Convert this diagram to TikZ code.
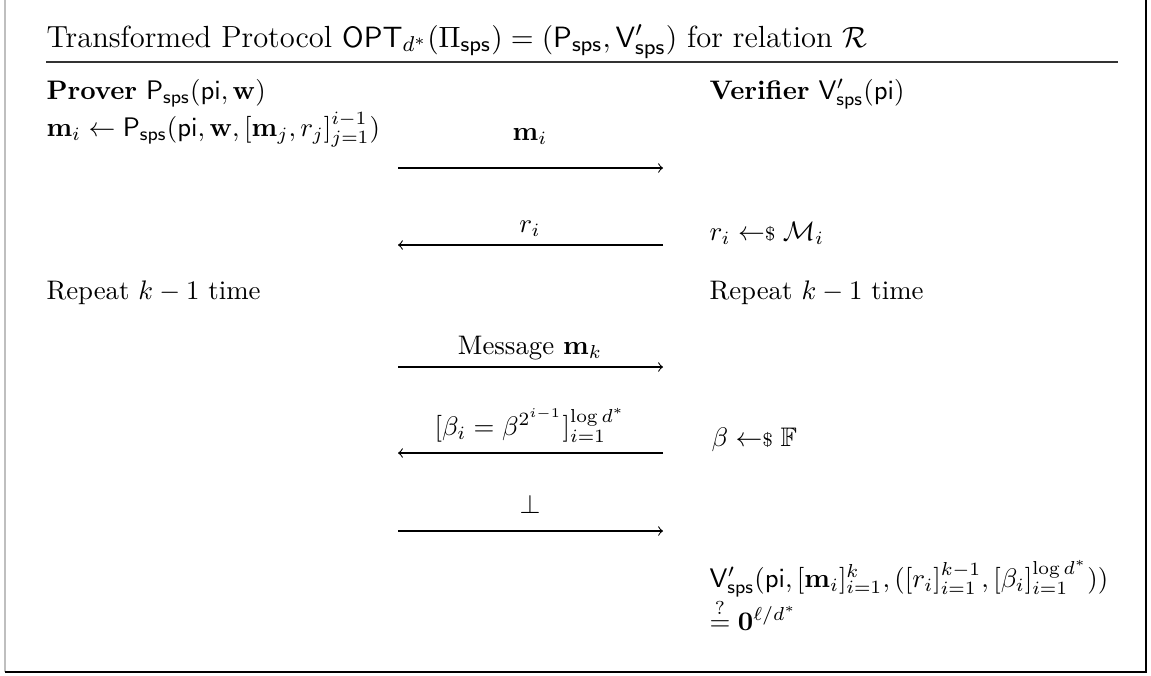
\documentclass[tikz,border=0pt]{standalone}
\usepackage{amsmath,amssymb}
\newcommand{\smp}{\mathrel{\leftarrow\mkern-5mu{\scriptstyle\$}}}
\newcommand{\sps}{\mathsf{sps}}
\begin{document}
\begin{tikzpicture}[x=0.373pt,y=-0.373pt,
  txt/.style={inner sep=0,anchor=base west},
  lbl/.style={inner sep=0,anchor=base},
  msg/.style={->,line width=0.4pt}]
\useasboundingbox (0,0) rectangle (1151,675);
% frame
\draw[black!25,line width=0.5pt] (5,0) -- (5,672);
\draw[black,line width=0.7pt] (5,672) -- (1146,672) -- (1146,0);
% title
\node[txt] (title) at (46,47) {\fontsize{11.4}{13.7}\selectfont Transformed Protocol $\mathsf{OPT}_{d^*}(\Pi_{\sps}) = (\mathsf{P}_{\sps}, \mathsf{V}'_{\sps})$ for relation $\mathcal{R}$};
\coordinate (rl) at (46,62);
\coordinate (rr) at (1118,62);
\draw[black!80,line width=0.5pt] (rl) -- (rr);
% headers
\node[txt] (prover) at (46,99) {\textbf{Prover} $\mathsf{P}_{\sps}(\mathsf{pi},\mathbf{w})$};
\node[txt] (verifier) at (709,99) {\textbf{Verifier} $\mathsf{V}'_{\sps}(\mathsf{pi})$};
% round 1
\node[txt] (p1) at (46,136) {$\mathbf{m}_i \leftarrow \mathsf{P}_{\sps}(\mathsf{pi},\mathbf{w},[\mathbf{m}_j,r_j]_{j=1}^{i-1})$};
\coordinate (a1l) at (398,168); \coordinate (a1r) at (663,168);
\draw[msg] (a1l) -- (a1r);
\node[lbl] (l1) at (530,140) {$\mathbf{m}_i$};
% round 2
\coordinate (a2l) at (398,245); \coordinate (a2r) at (663,245);
\draw[msg] (a2r) -- (a2l);
\node[lbl] (l2) at (530,232) {$r_i$};
\node[txt] (v2) at (709,240) {$r_i \smp \mathcal{M}_i$};
% repeat
\node[txt] (rp) at (46,299) {Repeat $k-1$ time};
\node[txt] (rv) at (709,299) {Repeat $k-1$ time};
% message k
\coordinate (a3l) at (398,367); \coordinate (a3r) at (663,367);
\draw[msg] (a3l) -- (a3r);
\node[lbl] (l3) at (530,354) {Message $\mathbf{m}_k$};
% beta
\coordinate (a4l) at (398,453); \coordinate (a4r) at (663,453);
\draw[msg] (a4r) -- (a4l);
\node[lbl] (l4) at (530,435) {$[\beta_i = \beta^{2^{i-1}}]_{i=1}^{\log d^*}$};
\node[txt] (v4) at (711,446) {$\beta \smp \mathbb{F}$};
% bottom
\coordinate (a5l) at (398,531); \coordinate (a5r) at (663,531);
\draw[msg] (a5l) -- (a5r);
\node[lbl] (l5) at (530,513) {$\bot$};
% final check
\node[txt] (v5) at (709,587) {$\mathsf{V}'_{\sps}(\mathsf{pi},[\mathbf{m}_i]_{i=1}^{k},([r_i]_{i=1}^{k-1},[\beta_i]_{i=1}^{\log d^*}))$};
\node[txt] (v6) at (709,630) {$\stackrel{?}{=} \mathbf{0}^{\ell/d^*}$};
\end{tikzpicture}
\end{document}
